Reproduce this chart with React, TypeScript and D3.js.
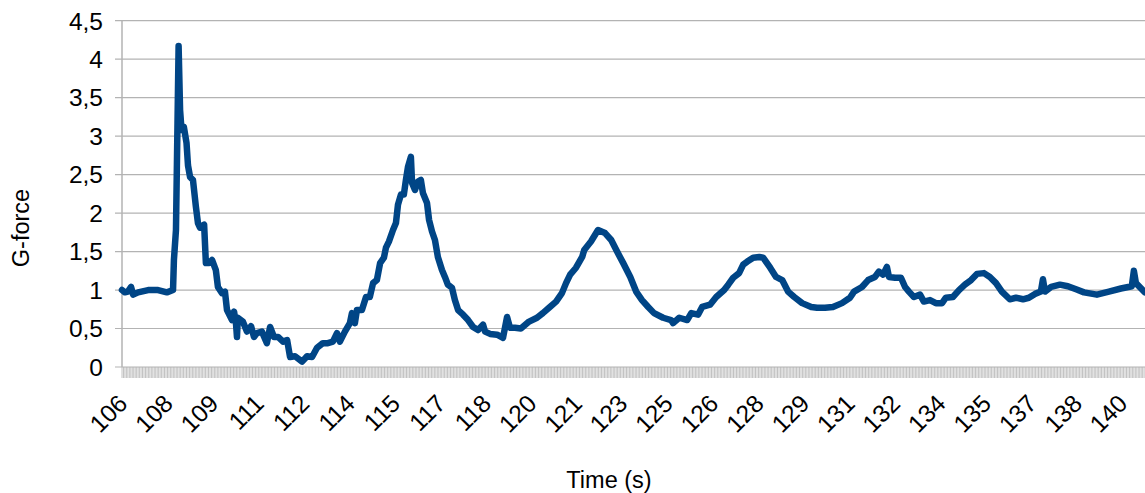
import React from "react";
import * as d3 from "d3";

// Time (s) and G-force samples
const times: number[] = [
  105.9, 106.0, 106.1, 106.21, 106.28, 106.45, 106.79, 107.13, 107.43, 107.64,
  107.67, 107.74, 107.83, 107.88, 107.93, 108.01, 108.1, 108.15, 108.22, 108.32,
  108.42, 108.49, 108.56, 108.7, 108.76, 108.87, 108.97, 109.1, 109.17, 109.31,
  109.41, 109.48, 109.65, 109.72, 109.79, 109.82, 109.85, 110.02, 110.16, 110.3,
  110.4, 110.5, 110.67, 110.84, 110.95, 111.08, 111.22, 111.39, 111.53, 111.63,
  111.8, 112.04, 112.21, 112.38, 112.55, 112.75, 112.92, 113.09, 113.23, 113.33,
  113.5, 113.67, 113.74, 113.84, 113.91, 114.08, 114.22, 114.35, 114.46, 114.59,
  114.7, 114.83, 114.9, 115.0, 115.14, 115.24, 115.31, 115.41, 115.51, 115.58,
  115.65, 115.75, 115.79, 115.89, 115.99, 116.09, 116.16, 116.3, 116.37, 116.47,
  116.57, 116.67, 116.81, 116.91, 117.01, 117.15, 117.25, 117.36, 117.53, 117.7,
  117.87, 118.04, 118.21, 118.28, 118.45, 118.69, 118.89, 119.03, 119.13, 119.3,
  119.5, 119.78, 120.05, 120.25, 120.46, 120.7, 120.9, 121.04, 121.18, 121.38,
  121.59, 121.66, 121.89, 122.13, 122.37, 122.58, 122.78, 122.99, 123.23, 123.43,
  123.63, 123.84, 124.04, 124.35, 124.62, 124.69, 124.9, 125.17, 125.31, 125.54,
  125.68, 125.95, 126.16, 126.43, 126.57, 126.74, 126.94, 127.08, 127.22, 127.42,
  127.63, 127.76, 128.0, 128.2, 128.41, 128.61, 128.82, 129.09, 129.4, 129.6,
  129.87, 130.14, 130.45, 130.72, 130.86, 131.13, 131.34, 131.57, 131.71, 131.85,
  131.98, 132.05, 132.26, 132.46, 132.6, 132.73, 132.9, 133.11, 133.24, 133.45,
  133.65, 133.86, 133.99, 134.23, 134.44, 134.64, 134.85, 135.05, 135.29, 135.49,
  135.7, 135.9, 136.17, 136.38, 136.62, 136.82, 137.03, 137.23, 137.3, 137.37,
  137.58, 137.88, 138.15, 138.43, 138.7, 139.14, 139.55, 139.96, 140.33, 140.4,
  140.47, 140.78,
];

const gforce: number[] = [
  1.0, 0.97, 0.98, 1.04, 0.94, 0.97, 1.0, 1.0, 0.97, 1.0,
  1.39, 1.78, 4.17, 3.34, 3.08, 3.12, 2.91, 2.62, 2.47, 2.43,
  2.08, 1.87, 1.81, 1.85, 1.35, 1.35, 1.39, 1.26, 1.04, 0.96,
  0.98, 0.74, 0.61, 0.72, 0.55, 0.39, 0.64, 0.59, 0.46, 0.53,
  0.39, 0.44, 0.46, 0.31, 0.52, 0.39, 0.39, 0.33, 0.35, 0.13,
  0.14, 0.07, 0.14, 0.13, 0.25, 0.31, 0.31, 0.33, 0.44, 0.33,
  0.46, 0.57, 0.7, 0.57, 0.74, 0.74, 0.91, 0.91, 1.09, 1.13,
  1.35, 1.42, 1.55, 1.63, 1.78, 1.87, 2.11, 2.24, 2.24, 2.43,
  2.6, 2.73, 2.39, 2.3, 2.41, 2.43, 2.26, 2.13, 1.91, 1.76,
  1.65, 1.43, 1.26, 1.17, 1.07, 1.03, 0.87, 0.74, 0.68, 0.61,
  0.52, 0.48, 0.55, 0.46, 0.43, 0.42, 0.38, 0.65, 0.51, 0.51,
  0.5, 0.59, 0.64, 0.7, 0.77, 0.85, 0.96, 1.09, 1.2, 1.29,
  1.43, 1.52, 1.63, 1.78, 1.74, 1.65, 1.5, 1.35, 1.17, 0.98,
  0.87, 0.78, 0.7, 0.64, 0.61, 0.57, 0.64, 0.61, 0.7, 0.68,
  0.78, 0.81, 0.91, 1.0, 1.07, 1.16, 1.22, 1.33, 1.37, 1.42,
  1.43, 1.42, 1.29, 1.17, 1.13, 0.98, 0.91, 0.83, 0.78, 0.77,
  0.77, 0.78, 0.83, 0.9, 0.98, 1.04, 1.13, 1.17, 1.24, 1.2,
  1.3, 1.17, 1.16, 1.16, 1.04, 0.98, 0.91, 0.94, 0.85, 0.87,
  0.83, 0.83, 0.9, 0.91, 1.0, 1.07, 1.13, 1.21, 1.22, 1.17,
  1.09, 0.98, 0.88, 0.9, 0.88, 0.9, 0.95, 0.98, 1.14, 0.98,
  1.04, 1.07, 1.05, 1.01, 0.97, 0.94, 0.98, 1.02, 1.05, 1.25,
  1.09, 0.97,
];

const xLabels: string[] = [
  "106", "108", "109", "111", "112", "114", "115", "117", "118", "120", "121",
  "123", "125", "126", "128", "129", "131", "132", "134", "135", "137", "138", "140",
];

const yTicks: number[] = [0, 0.5, 1, 1.5, 2, 2.5, 3, 3.5, 4, 4.5];

const W = 1145;
const H = 493;
const left = 122;
const right = 1145;
const top = 20.7;
const bottom = 367;
const FONT = "'Liberation Sans', Arial, sans-serif";

export default function App() {
  const x = d3.scaleLinear().domain([105.9, 140.78]).range([left, right]);
  const y = d3.scaleLinear().domain([0, 4.5]).range([bottom, top]);
  const labelX = d3.scalePoint<string>().domain(xLabels).range([129, 1129]);
  const minorTicks = d3.range(105.9, 140.78, 0.05);

  const pts: [number, number][] = times.map((t, i) => [t, gforce[i]]);
  const line = d3
    .line<[number, number]>()
    .x((d) => x(d[0]))
    .y((d) => y(d[1]));

  const fmt = (v: number) => String(v).replace(".", ",");

  return (
    <svg
      width={W}
      height={H}
      style={{ position: "absolute", left: 0, top: 0, background: "#fff" }}
      fontFamily={FONT}
    >
      {/* gridlines */}
      {yTicks.map((v) => (
        <line
          key={"g" + v}
          x1={left - 7}
          x2={right}
          y1={y(v)}
          y2={y(v)}
          stroke="#b3b3b3"
          strokeWidth={1.2}
        />
      ))}
      {/* y axis line */}
      <line x1={left} x2={left} y1={top} y2={bottom} stroke="#b3b3b3" strokeWidth={1.5} />
      {/* minor x ticks */}
      {minorTicks.map((t, i) => (
        <line
          key={"m" + i}
          x1={x(t)}
          x2={x(t)}
          y1={bottom}
          y2={bottom + 11}
          stroke="#b3b3b3"
          strokeWidth={0.8}
        />
      ))}
      {/* y labels */}
      {yTicks.map((v) => (
        <text
          key={"yl" + v}
          x={103}
          y={y(v)}
          dy="0.36em"
          textAnchor="end"
          fontSize={24.5}
          fill="#000"
        >
          {fmt(v)}
        </text>
      ))}
      {/* x labels */}
      {xLabels.map((l) => (
        <text
          key={"xl" + l}
          transform={`translate(${labelX(l)},${405}) rotate(-45)`}
          textAnchor="end"
          fontSize={24.5}
          fill="#000"
        >
          {l}
        </text>
      ))}
      {/* series */}
      <path
        d={line(pts) || ""}
        fill="none"
        stroke="#004586"
        strokeWidth={6.5}
        strokeLinejoin="round"
        strokeLinecap="round"
      />
      {/* axis titles */}
      <text
        transform={`translate(29,228) rotate(-90)`}
        textAnchor="middle"
        fontSize={23.5}
        fill="#000"
      >
        G-force
      </text>
      <text x={609} y={488} textAnchor="middle" fontSize={23.5} fill="#000">
        Time (s)
      </text>
    </svg>
  );
}
